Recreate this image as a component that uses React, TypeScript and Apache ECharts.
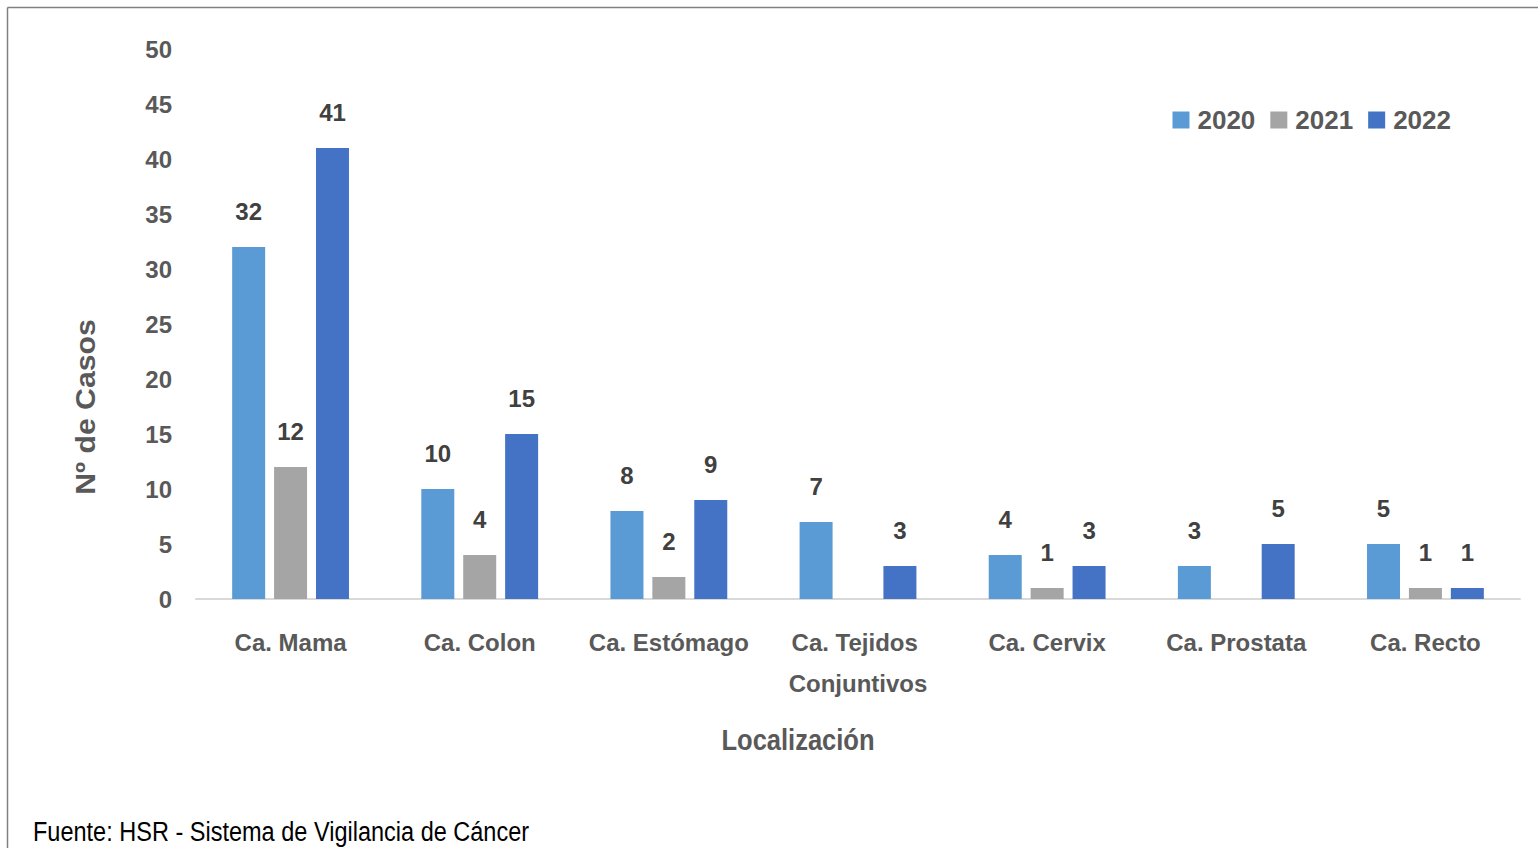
import React, { useEffect, useRef } from "react";
import * as echarts from "echarts";

const categories = ["Ca. Mama", "Ca. Colon", "Ca. Estómago", "Ca. Tejidos Conjuntivos", "Ca. Cervix", "Ca. Prostata", "Ca. Recto"];
const seriesNames = ["2020", "2021", "2022"];
const values2020 = [32, 10, 8, 7, 4, 3, 5];
const values2021 = [12, 4, 2, null, 1, null, 1];
const values2022 = [41, 15, 9, 3, 3, 5, 1];
const colors = ["#5B9BD5", "#A5A5A5", "#4472C4"];
const yTicks = { min: 0, max: 50, interval: 5 };
const xTitle = "Localización";
const yTitle = "Nº de Casos";
const footer = "Fuente: HSR - Sistema de Vigilancia de Cáncer";

const FONT = "'Liberation Sans', Arial, sans-serif";

export default function App() {
  const ref = useRef<HTMLDivElement>(null);
  useEffect(() => {
    const chart = echarts.init(ref.current!, null, { renderer: "svg" });
    const all = [values2020, values2021, values2022];
    chart.setOption({
      animation: false,
      backgroundColor: "#ffffff",
      textStyle: { fontFamily: FONT },
      legend: {
        data: seriesNames,
        right: 82,
        top: 102,
        itemWidth: 17,
        itemHeight: 17,
        itemGap: 15,
        icon: "rect",
        textStyle: { fontFamily: FONT, fontSize: 26, fontWeight: "bold", color: "#595959", padding: [0, 0, 0, 3] },
      },
      grid: { left: 196, right: 18, top: 49, bottom: 249, containLabel: false },
      xAxis: {
        type: "category",
        data: categories,
        axisLine: { lineStyle: { color: "#D9D9D9", width: 2 } },
        axisTick: { show: false },
        axisLabel: {
          interval: 0,
          margin: 23,
          fontFamily: FONT,
          fontSize: 24,
          fontWeight: "bold",
          color: "#595959",
          width: 200,
          overflow: "break",
          lineHeight: 41,
          verticalAlign: "top",
        },
      },
      yAxis: {
        type: "value",
        min: yTicks.min,
        max: yTicks.max,
        interval: yTicks.interval,
        axisLine: { show: false },
        axisTick: { show: false },
        splitLine: { show: false },
        axisLabel: { margin: 24, fontFamily: FONT, fontSize: 24, fontWeight: "bold", color: "#595959" },
      },
      series: seriesNames.map((name, i) => ({
        name,
        type: "bar",
        data: all[i],
        barWidth: 33,
        barGap: "27%",
        itemStyle: { color: colors[i] },
        label: {
          show: true,
          position: "top",
          distance: 24,
          fontFamily: FONT,
          fontSize: 24,
          fontWeight: "bold",
          color: "#404040",
        },
      })),
      graphic: [
        { type: "line", shape: { x1: 7.5, y1: 7.5, x2: 1540, y2: 7.5 }, style: { stroke: "#808080", lineWidth: 1.5 } },
        { type: "line", shape: { x1: 7.5, y1: 7.5, x2: 7.5, y2: 850 }, style: { stroke: "#808080", lineWidth: 1.5 } },
        {
          type: "text",
          x: 85,
          y: 407,
          rotation: Math.PI / 2,
          scaleX: 1.08,
          style: {
            text: yTitle,
            fontFamily: FONT,
            fontSize: 28,
            fontWeight: "bold",
            fill: "#595959",
            align: "center",
            verticalAlign: "middle",
          },
        },
        {
          type: "text",
          x: 798,
          y: 740,
          scaleX: 0.88,
          style: {
            text: xTitle,
            fontFamily: FONT,
            fontSize: 29,
            fontWeight: "bold",
            fill: "#595959",
            align: "center",
            verticalAlign: "middle",
          },
        },
        {
          type: "text",
          x: 33,
          y: 831,
          scaleX: 0.84,
          style: { text: footer, fontFamily: FONT, fontSize: 28, fill: "#000000", align: "left", verticalAlign: "middle" },
        },
      ],
    });
    return () => chart.dispose();
  }, []);
  return <div ref={ref} style={{ position: "absolute", left: 0, top: 0, width: 1538, height: 848 }} />;
}
